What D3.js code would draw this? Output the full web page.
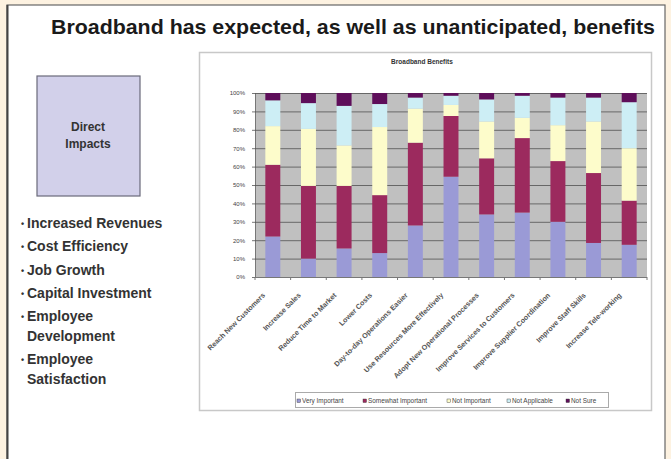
<!DOCTYPE html>
<html>
<head>
<meta charset="utf-8">
<script src="https://cdn.jsdelivr.net/npm/d3@7"></script>
<style>
  body { margin: 0; background: #fdf2e1; }
  svg { display: block; }
</style>
</head>
<body>
<svg id="slide"></svg>
<script>
// categories and series (percent of respondents)
var categories = ["Reach New Customers", "Increase Sales", "Reduce Time to Market", "Lower Costs",
  "Day-to-day Operations Easier", "Use Resources More Effectively", "Adopt New Operational Processes",
  "Improve Services to Customers", "Improve Supplier Coordination", "Improve Staff Skills",
  "Increase Tele-working"]
var series = ["Very Important", "Somewhat Important", "Not Important", "Not Applicable", "Not Sure"]
var veryImportant     = [22, 10, 15.5, 13, 28, 54.5, 34, 35, 30, 18.5, 17.5]
var somewhatImportant = [39, 39.5, 34, 31.5, 45, 33, 30.5, 40.5, 33, 38, 24]
var notImportant      = [21, 31, 22, 37, 18.5, 6, 20, 11, 19.5, 28, 28.5]
var notApplicable     = [14, 14, 21.5, 12.5, 6, 5, 12, 12, 15, 13, 25]
var notSure           = [4, 5.5, 7, 6, 2.5, 1.5, 3.5, 1.5, 2.5, 2.5, 5]
var yTicks = [0, 10, 20, 30, 40, 50, 60, 70, 80, 90, 100]
var bullets = ["Increased Revenues", "Cost Efficiency", "Job Growth", "Capital Investment",
  ["Employee", "Development"], ["Employee", "Satisfaction"]]

var colors = ["#9a9ad6", "#9c2a5e", "#fdfccb", "#cdeef5", "#5e0e5a"]

var W = 671, H = 459
var svg = d3.select("#slide").attr("width", W).attr("height", H)

// white slide panel
svg.append("rect").attr("x", 7).attr("y", 5).attr("width", 658).attr("height", 470)
  .attr("fill", "#fff").attr("stroke", "#666").attr("stroke-width", 1.2)
svg.append("line").attr("x1", 7.5).attr("x2", 7.5).attr("y1", 5).attr("y2", H)
  .attr("stroke", "#444").attr("stroke-width", 2)

svg.append("text")
  .attr("x", 353).attr("y", 34)
  .attr("text-anchor", "middle")
  .attr("textLength", 604).attr("lengthAdjust", "spacingAndGlyphs")
  .style("font", "bold 20.5px 'Liberation Sans', Arial, sans-serif")
  .attr("fill", "#1a1a1a")
  .text("Broadband has expected, as well as unanticipated, benefits")

// Direct impacts box
svg.append("rect").attr("x", 37).attr("y", 76).attr("width", 103).attr("height", 120)
  .attr("fill", "#d2d0ea").attr("stroke", "#6a6a7a").attr("stroke-width", 1.2)
svg.append("text").attr("x", 88).attr("y", 131).attr("text-anchor", "middle")
  .style("font", "bold 12px 'Liberation Sans', sans-serif").attr("fill", "#333")
  .text("Direct")
svg.append("text").attr("x", 88).attr("y", 148).attr("text-anchor", "middle")
  .style("font", "bold 12px 'Liberation Sans', sans-serif").attr("fill", "#333")
  .text("Impacts")

var by = 228
bullets.forEach(function(b) {
  var lines = Array.isArray(b) ? b : [b]
  var t = svg.append("text").attr("x", 21).attr("y", by)
    .style("font", "bold 14px 'Liberation Sans', sans-serif").attr("fill", "#333")
  t.append("tspan").style("font-size", "9px").attr("dy", -1).text("•")
  t.append("tspan").attr("x", 27).attr("dy", 1).text(lines[0])
  if (lines.length > 1) {
    svg.append("text").attr("x", 27).attr("y", by + 20)
      .style("font", "bold 14px 'Liberation Sans', sans-serif").attr("fill", "#333")
      .text(lines[1])
    by += 43
  } else {
    by += 23.3
  }
})

// chart frame
svg.append("rect").attr("x", 199.5).attr("y", 52.5).attr("width", 452).attr("height", 358)
  .attr("fill", "#fff").attr("stroke", "#c8c8c8").attr("stroke-width", 1.5)
svg.append("text").attr("x", 422).attr("y", 64).attr("text-anchor", "middle")
  .style("font", "bold 6.5px Arial, 'Liberation Sans', sans-serif").attr("fill", "#333")
  .text("Broadband Benefits")

var plot = { left: 255, right: 647, top: 93, bottom: 277 }

var xScale = d3.scaleBand()
  .domain(categories)
  .range([plot.left, plot.right])
  .paddingInner(0.58).paddingOuter(0.29)

var yScale = d3.scaleLinear()
  .domain([0, 100])
  .range([plot.bottom, plot.top])

svg.append("rect").attr("x", plot.left).attr("y", plot.top)
  .attr("width", plot.right - plot.left).attr("height", plot.bottom - plot.top)
  .attr("fill", "#c0c0c0")

svg.append("g")
  .attr("transform", "translate(" + plot.left + ",0)")
  .call(d3.axisLeft(yScale).tickValues(yTicks).tickFormat(function(d) { return d + "%" })
    .tickSize(3).tickPadding(7))
  .call(function(g) {
    g.select(".domain").attr("stroke", "#777")
    g.selectAll(".tick line").attr("stroke", "#777")
    g.selectAll(".tick text").attr("fill", "#444")
      .style("font", "6px Arial, 'Liberation Sans', sans-serif")
  })
  .selectAll(".tick")
  .append("line")
  .attr("x1", 0).attr("x2", plot.right - plot.left)
  .attr("stroke", "#505050").attr("stroke-width", 0.8)

// stacked bars
var rows = categories.map(function(c, i) {
  return {
    name: c,
    "Very Important": veryImportant[i],
    "Somewhat Important": somewhatImportant[i],
    "Not Important": notImportant[i],
    "Not Applicable": notApplicable[i],
    "Not Sure": notSure[i]
  }
})
var stacked = d3.stack().keys(series)(rows)

svg.append("g").attr("id", "bars")
  .selectAll("g")
  .data(stacked)
  .enter()
  .append("g")
  .attr("fill", function(d, i) { return colors[i] })
  .selectAll("rect")
  .data(function(d) { return d })
  .enter()
  .append("rect")
  .attr("x", function(d) { return xScale(d.data.name) })
  .attr("y", function(d) { return yScale(d[1]) })
  .attr("width", xScale.bandwidth())
  .attr("height", function(d) { return yScale(d[0]) - yScale(d[1]) })

// x axis with ticks between categories
var step = xScale.step()
var xAxis = svg.append("g")
xAxis.append("line").attr("x1", plot.left).attr("x2", plot.right)
  .attr("y1", plot.bottom + 0.5).attr("y2", plot.bottom + 0.5).attr("stroke", "#777")
xAxis.selectAll(".sep")
  .data(d3.range(categories.length + 1))
  .enter()
  .append("line")
  .attr("x1", function(i) { return plot.left + i * step })
  .attr("x2", function(i) { return plot.left + i * step })
  .attr("y1", plot.bottom).attr("y2", plot.bottom + 3)
  .attr("stroke", "#777")

xAxis.selectAll(".cat")
  .data(categories)
  .enter()
  .append("text")
  .attr("text-anchor", "end")
  .attr("transform", function(d) {
    return "translate(" + (xScale(d) + xScale.bandwidth() / 2 - 9) + "," + (plot.bottom + 17) + ") rotate(-45)"
  })
  .attr("dy", "0.35em")
  .style("font", "bold 7.2px Arial, 'Liberation Sans', sans-serif")
  .attr("fill", "#555")
  .text(function(d) { return d })

// legend
var legend = svg.append("g")
legend.append("rect").attr("x", 295.5).attr("y", 392.5).attr("width", 313).attr("height", 15)
  .attr("fill", "#fff").attr("stroke", "#aaa")
var legendX = [297, 363, 447, 507, 566]
series.forEach(function(s, i) {
  legend.append("rect").attr("x", legendX[i]).attr("y", 399).attr("width", 3.5).attr("height", 3.5)
    .attr("fill", colors[i]).attr("stroke", "#333").attr("stroke-width", 0.4)
  legend.append("text").attr("x", legendX[i] + 5).attr("y", 402.5)
    .style("font", "6.4px Arial, 'Liberation Sans', sans-serif").attr("fill", "#444")
    .text(s)
})
</script>
</body>
</html>
